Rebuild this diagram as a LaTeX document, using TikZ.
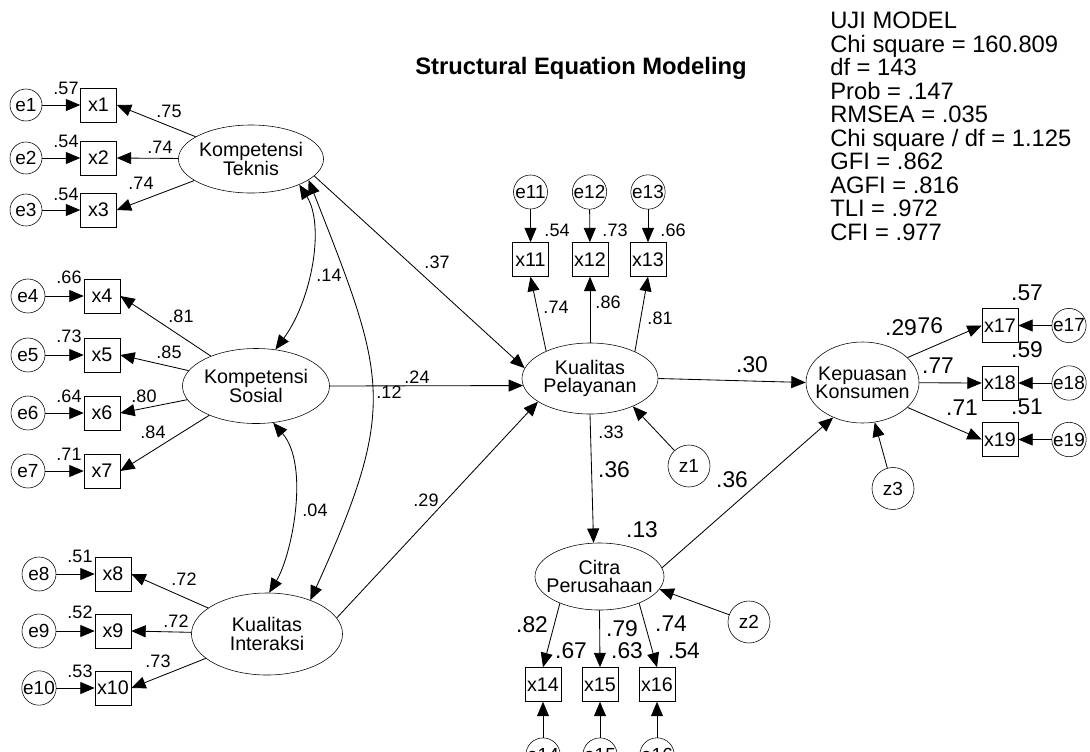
\documentclass[tikz,border=0pt]{standalone}
\usepackage{fontspec}
\setmainfont{Liberation Sans}
\usetikzlibrary{arrows.meta,shapes.geometric}

\begin{document}
\begin{tikzpicture}[x=0.025cm,y=-0.025cm,>={Triangle[length=0.36cm,width=0.3cm]},
 latent/.style 2 args={draw,ellipse,inner sep=0pt,minimum width=#1,minimum height=#2},
 lattext/.style={align=center,font=\fontsize{14}{13}\selectfont},
 obs/.style={draw,rectangle,minimum width=0.9cm,minimum height=0.85cm,inner sep=0pt,font=\fontsize{14}{14}\selectfont},
 err/.style={draw,circle,minimum size=0.85cm,inner sep=0pt,font=\fontsize{13.5}{13.5}\selectfont},
 resid/.style={draw,circle,minimum size=1.05cm,inner sep=0pt,font=\fontsize{13.5}{13.5}\selectfont},
 est/.style={inner sep=0pt,font=\fontsize{12.8}{12.8}\selectfont},
 estbig/.style={inner sep=0pt,font=\fontsize{16.2}{16.2}\selectfont},
 fitinfo/.style={align=left,inner sep=0pt,font=\fontsize{16.9}{16.7}\selectfont},
 link/.style={->,line width=0.6pt},
 cov/.style={<->,line width=0.6pt}]
\useasboundingbox (0,0) rectangle (1090,751);
\clip (0,0) rectangle (1090,751);

% latent variables
\node[latent={3.625cm}{1.7cm},label={[lattext]center:{Kompetensi\\Teknis}}] (kt) at (251,159) {};
\node[latent={3.675cm}{1.875cm},label={[lattext]center:{Kompetensi\\Sosial}}] (ks) at (256,386) {};
\node[latent={3.775cm}{2.05cm},label={[lattext]center:{Kualitas\\Interaksi}}] (ki) at (267,634) {};
\node[latent={3.4cm}{1.775cm},label={[lattext]center:{Kualitas\\Pelayanan}}] (kp) at (590,378.5) {};
\node[latent={3.225cm}{1.675cm},label={[lattext]center:{Citra\\Perusahaan}}] (cp) at (599.5,576.5) {};
\node[latent={2.825cm}{2.025cm},label={[lattext]center:{Kepuasan\\Konsumen}}] (kk) at (862.5,382.5) {};

% Kompetensi Teknis
\node[err,minimum size=0.8cm] (e1) at (26,105) {e1};
\node[err,minimum size=0.8cm] (e2) at (26,158) {e2};
\node[err,minimum size=0.8cm] (e3) at (26,210) {e3};
\node[obs] (x1) at (98.5,105) {x1};
\node[obs] (x2) at (98.5,158) {x2};
\node[obs] (x3) at (98.5,210) {x3};
\draw[link] (e1) -- (x1);
\draw[link] (e2) -- (x2);
\draw[link] (e3) -- (x3);
\draw[link] (kt) -- (x1.east);
\draw[link] (kt) -- (x2.east);
\draw[link] (kt) -- (x3.east);
\node[est] at (66,88) {.57};
\node[est] at (66,141) {.54};
\node[est] at (66,194) {.54};
\node[est] at (169,111) {.75};
\node[est] at (160,147) {.74};
\node[est] at (141,183) {.74};

% Kompetensi Sosial
\node[err] (e4) at (28,296) {e4};
\node[err] (e5) at (28,355) {e5};
\node[err] (e6) at (28,413) {e6};
\node[err] (e7) at (28,471) {e7};
\node[obs] (x4) at (102,296) {x4};
\node[obs] (x5) at (102,355) {x5};
\node[obs] (x6) at (102,413) {x6};
\node[obs] (x7) at (102,471) {x7};
\draw[link] (e4) -- (x4);
\draw[link] (e5) -- (x5);
\draw[link] (e6) -- (x6);
\draw[link] (e7) -- (x7);
\draw[link] (ks) -- (x4.east);
\draw[link] (ks) -- (x5.east);
\draw[link] (ks) -- (x6.east);
\draw[link] (ks) -- (x7.east);
\node[est] at (69,277) {.66};
\node[est] at (69,336) {.73};
\node[est] at (69,396) {.64};
\node[est] at (69,454) {.71};
\node[est] at (181,316) {.81};
\node[est] at (169,352) {.85};
\node[est] at (144,396) {.80};
\node[est] at (153,432) {.84};

% Kualitas Interaksi
\node[err] (e8) at (39,574) {e8};
\node[err] (e9) at (39,631) {e9};
\node[err] (e10) at (39,688) {e10};
\node[obs] (x8) at (113,574) {x8};
\node[obs] (x9) at (113,631) {x9};
\node[obs] (x10) at (113,688) {x10};
\draw[link] (e8) -- (x8);
\draw[link] (e9) -- (x9);
\draw[link] (e10) -- (x10);
\draw[link] (ki) -- (x8.east);
\draw[link] (ki) -- (x9.east);
\draw[link] (ki) -- (x10.east);
\node[est] at (80,556) {.51};
\node[est] at (80,612) {.52};
\node[est] at (80,671) {.53};
\node[est] at (184,579) {.72};
\node[est] at (176,621) {.72};
\node[est] at (158,661) {.73};

% Kualitas Pelayanan
\node[err] (e11) at (530.5,192) {e11};
\node[err] (e12) at (589.5,192) {e12};
\node[err] (e13) at (648,192) {e13};
\node[obs] (x11) at (530.5,259.5) {x11};
\node[obs] (x12) at (590,259.5) {x12};
\node[obs] (x13) at (648,259.5) {x13};
\draw[link] (e11) -- (x11);
\draw[link] (e12) -- (x12);
\draw[link] (e13) -- (x13);
\draw[link] (kp.148) -- (x11.south);
\draw[link] (kp.north) -- (x12.south);
\draw[link] (kp.31) -- (x13.south);
\node[est] at (557,230) {.54};
\node[est] at (615,230) {.73};
\node[est] at (673,230) {.66};
\node[est] at (556,307) {.74};
\node[est] at (608,302) {.86};
\node[est] at (660,318) {.81};
\node[resid] (z1) at (689,466) {z1};
\draw[link] (z1) -- (kp.327);

% Citra Perusahaan
\node[obs] (x14) at (543,684.5) {x14};
\node[obs] (x15) at (600,684.5) {x15};
\node[obs] (x16) at (657,684.5) {x16};
\node[err] (e14) at (543,755) {e14};
\node[err] (e15) at (600,755) {e15};
\node[err] (e16) at (657,755) {e16};
\draw[link] (e14) -- (x14);
\draw[link] (e15) -- (x15);
\draw[link] (e16) -- (x16);
\draw[link] (cp.214) -- (x14.north);
\draw[link] (cp.south) -- (x15.north);
\draw[link] (cp.326) -- (x16.north);
\node[estbig] at (532,625) {.82};
\node[estbig] at (622,629) {.79};
\node[estbig] at (671,624) {.74};
\node[estbig] at (571,651) {.67};
\node[estbig] at (627,651) {.63};
\node[estbig] at (684,651) {.54};
\node[resid] (z2) at (749,622) {z2};
\draw[link] (z2) -- (cp.348);

% Kepuasan Konsumen
\node[obs] (x17) at (1000,325.5) {x17};
\node[obs] (x18) at (1000,383) {x18};
\node[obs] (x19) at (1000,439.5) {x19};
\node[err] (e17) at (1069,325.5) {e17};
\node[err] (e18) at (1069,383) {e18};
\node[err] (e19) at (1069,439.5) {e19};
\draw[link] (e17) -- (x17);
\draw[link] (e18) -- (x18);
\draw[link] (e19) -- (x19);
\draw[link] (kk.29) -- (x17.west);
\draw[link] (kk) -- (x18.west);
\draw[link] (kk.331) -- (x19.west);
\node[estbig] at (1027,293) {.57};
\node[estbig] at (1027,350) {.59};
\node[estbig] at (1027,407) {.51};
\node[estbig] at (901,328) {.29};
\node[estbig,anchor=west] at (911,326) {.76};
\node[estbig] at (938,366) {.77};
\node[estbig] at (962,408) {.71};
\node[resid] (z3) at (893,488.5) {z3};
\draw[link] (z3) -- (kk.287);

% structural paths
\draw[link] (kt.345) -- (kp.171);
\draw[link] (ks.east) -- (kp.186);
\draw[link] (ki.13) -- (kp.204);
\draw[link] (kp.east) -- (kk.west);
\draw[link] (kp.south) -- (cp.100);
\draw[link] (cp.8) -- (kk.230);
\node[est] at (437,262) {.37};
\node[est] at (417,377) {.24};
\node[est] at (426,500) {.29};
\node[est] at (611,432) {.33};
\node[estbig] at (752,365) {.30};
\node[estbig] at (614,470) {.36};
\node[estbig] at (732,480) {.36};
\node[estbig] at (642,530) {.13};

% correlations
\draw[cov] (kt.332) .. controls (325,225) and (312,300) .. (ks.62);
\draw[cov] (kt.340) .. controls (386,377) and (399,405) .. (ki.38);
\draw[cov] (ks.295) .. controls (310,465) and (292,555) .. (ki.87);
\node[est] at (329,275) {.14};
\node[est] at (389,392) {.12};
\node[est] at (315,510) {.04};

% title and fit
\node[font=\bfseries\fontsize{16.9}{16.9}\selectfont,anchor=base] (title) at (581,74) {Structural Equation Modeling};
\node[fitinfo,anchor=north west] (uji) at (830,12) {UJI MODEL\\Chi square = 160.809\\df = 143\\Prob = .147\\RMSEA = .035\\Chi square / df = 1.125\\GFI = .862\\AGFI = .816\\TLI = .972\\CFI = .977};
\end{tikzpicture}
\end{document}
